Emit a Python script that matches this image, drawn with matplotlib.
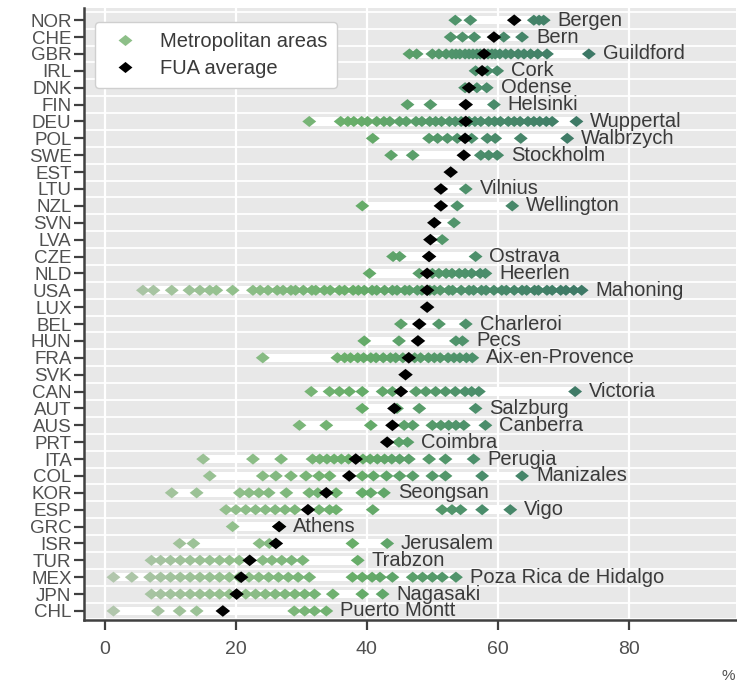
import numpy as np
import matplotlib
matplotlib.use("Agg")
import matplotlib.pyplot as plt
from matplotlib.path import Path
from matplotlib.lines import Line2D
from matplotlib.colors import LinearSegmentedColormap

plt.rcParams['font.family'] = ['Liberation Sans', 'DejaVu Sans']

# ---- data ----
countries = ['NOR', 'CHE', 'GBR', 'IRL', 'DNK', 'FIN', 'DEU', 'POL', 'SWE', 'EST',
             'LTU', 'NZL', 'SVN', 'LVA', 'CZE', 'NLD', 'USA', 'LUX', 'BEL', 'HUN',
             'FRA', 'SVK', 'CAN', 'AUT', 'AUS', 'PRT', 'ITA', 'COL', 'KOR', 'ESP',
             'GRC', 'ISR', 'TUR', 'MEX', 'JPN', 'CHL']

fua_avg = [62.5, 59.4, 57.9, 57.6, 55.6, 55.1, 55.1, 55.0, 54.8, 52.8,
           51.3, 51.3, 50.3, 49.7, 49.5, 49.2, 49.2, 49.2, 48.0, 47.8,
           46.4, 45.9, 45.2, 44.2, 43.9, 43.1, 38.3, 37.3, 33.8, 31.0,
           26.6, 26.1, 22.1, 20.8, 20.1, 18.0]

max_labels = ['Bergen', 'Bern', 'Guildford', 'Cork', 'Odense', 'Helsinki', 'Wuppertal',
              'Walbrzych', 'Stockholm', '', 'Vilnius', 'Wellington', '', '', 'Ostrava',
              'Heerlen', 'Mahoning', '', 'Charleroi', 'Pecs', 'Aix-en-Provence', '',
              'Victoria', 'Salzburg', 'Canberra', 'Coimbra', 'Perugia', 'Manizales',
              'Seongsan', 'Vigo', 'Athens', 'Jerusalem', 'Trabzon',
              'Poza Rica de Hidalgo', 'Nagasaki', 'Puerto Montt']

nor = [53.5, 55.8, 65.5, 66.3, 67.0]
che = [52.8, 54.6, 56.4, 60.9, 63.7]
gbr = [46.5, 47.6, 50.0, 51.0, 52.1, 53.0, 53.6, 54.2, 55.0, 55.6, 56.2, 56.8, 57.3,
       58.5, 59.1, 59.6, 60.3, 61.2, 62.0, 63.1, 64.0, 65.0, 66.1, 67.5, 73.9]
irl = [56.6, 58.4, 59.9]
dnk = [55.0, 56.8, 58.3]
fin = [46.2, 49.7, 59.4]
deu = [31.2, 36.0, 37.1, 38.0, 39.2, 40.1, 41.5, 42.6, 43.5, 45.0, 46.0, 47.5, 48.4,
       49.6, 50.5, 51.4, 52.6, 53.5, 54.4, 55.6, 56.5, 57.4, 58.6, 59.5, 60.4, 61.6,
       62.5, 63.4, 64.6, 65.5, 66.4, 67.4, 68.3, 72.0]
pol = [40.9, 49.5, 50.8, 52.3, 53.8, 56.0, 58.4, 59.6, 63.5, 70.6]
swe = [43.7, 47.0, 57.4, 58.6, 59.9]
est = []
ltu = [55.1]
nzl = [39.3, 53.8, 62.2]
svn = [53.3]
lva = [51.5]
cze = [44.0, 45.0, 56.6]
nld = [40.4, 48.0, 50.0, 51.0, 52.1, 53.0, 54.1, 55.0, 56.0, 57.3, 58.1]
usa = [5.8, 7.4, 10.2, 12.9, 14.5, 16.0, 17.0, 19.5,
       22.6, 23.7, 24.9, 26.3, 27.2, 28.4, 29.1, 30.3, 31.6, 32.2, 33.5, 34.4, 35.8,
       36.6, 37.9, 38.7, 39.6, 40.8, 41.5, 42.7, 43.9, 44.6, 45.8, 46.5, 47.7, 48.4,
       49.6, 50.3, 51.2, 52.5, 53.1, 54.4, 55.6, 56.3, 57.5, 58.2, 59.4, 60.6, 61.3,
       62.5, 63.7, 64.4, 65.6, 66.2, 67.5, 68.3, 69.6, 70.4, 71.6, 72.8]
lux = []
bel = [45.2, 51.0, 55.1]
hun = [39.6, 44.9, 53.6, 54.6]
fra = [24.1, 35.5, 36.6, 37.5, 38.6, 39.5, 40.6, 41.4, 42.5, 43.6, 44.4, 45.5, 47.3,
       48.2, 49.4, 50.3, 51.2, 52.4, 53.3, 54.2, 55.2, 56.1]
svk = []
can = [31.5, 34.3, 35.8, 37.3, 39.3, 42.4, 43.9, 47.5, 49.0, 50.5, 52.0, 53.5, 55.0,
       56.0, 57.1, 71.8]
aut = [39.3, 44.6, 48.0, 56.6]
aus = [29.7, 33.8, 40.6, 45.7, 47.0, 50.0, 51.3, 52.5, 53.6, 54.8, 58.1]
prt = [44.9, 46.2]
ita = [15.0, 22.6, 26.9, 31.7, 32.8, 33.9, 35.0, 36.1, 37.2, 39.4, 40.5, 41.6, 42.7,
       43.8, 45.0, 46.4, 49.5, 52.0, 56.3]
col = [16.0, 24.1, 26.1, 28.4, 30.7, 32.7, 34.3, 39.3, 41.0, 43.0, 45.0, 47.0, 50.0,
       52.0, 57.6, 63.7]
kor = [10.2, 14.0, 20.6, 22.0, 23.5, 25.0, 27.7, 31.2, 32.5, 35.3, 39.3, 40.6, 42.6]
esp = [18.5, 20.0, 21.5, 23.0, 24.5, 26.0, 27.5, 29.0, 32.7, 34.3, 35.3, 40.9, 51.5,
       53.0, 54.3, 57.6, 61.9]
grc = [19.5, 26.6]
isr = [11.4, 13.5, 23.6, 25.1, 37.8, 43.1]
tur = [7.1, 8.5, 10.0, 11.5, 13.0, 14.5, 16.0, 17.5, 19.0, 20.5, 24.1, 25.5, 27.0,
       28.5, 30.2, 38.6]
mex = [1.3, 4.1, 6.9, 8.5, 10.0, 11.5, 13.0, 14.5, 16.0, 17.5, 19.0, 20.5, 22.0, 23.5,
       25.0, 26.5, 28.0, 29.5, 31.2, 37.8, 39.3, 40.8, 42.0, 43.9, 47.0, 48.5, 50.0,
       51.5, 53.6]
jpn = [7.1, 8.5, 10.0, 11.5, 13.0, 14.5, 16.0, 17.5, 19.0, 21.5, 23.0, 24.5, 26.0,
       27.5, 29.0, 30.5, 32.0, 34.8, 39.3, 42.4]
chl = [1.3, 8.1, 11.4, 14.0, 28.9, 30.5, 32.0, 33.8]

metro = [nor, che, gbr, irl, dnk, fin, deu, pol, swe, est, ltu, nzl, svn, lva, cze,
         nld, usa, lux, bel, hun, fra, svk, can, aut, aus, prt, ita, col, kor, esp,
         grc, isr, tur, mex, jpn, chl]

# ---- styling ----
diamond = Path([(-1, 0), (0, 0.8), (1, 0), (0, -0.8), (-1, 0)],
               [Path.MOVETO, Path.LINETO, Path.LINETO, Path.LINETO, Path.CLOSEPOLY])
greens = LinearSegmentedColormap.from_list(
    'greens', [(0.0, '#b3c6ae'), (0.25, '#93c08d'), (0.5, '#68ae69'),
               (0.75, '#4b8e6b'), (1.0, '#3b7565')])
vmax = 76.0
bg = '#e8e8e8'
txt = '#3a3a3a'

fig = plt.figure(figsize=(7.37, 6.85), dpi=100)
ax = fig.add_axes([0.114, 0.095, 0.884, 0.893])
ax.set_facecolor(bg)

n = len(countries)
ypos = np.arange(n)

# row separators and vertical grid
for y in np.arange(-0.5, n, 1.0):
    ax.axhline(y, color='white', lw=1.3, zorder=0)
for x in [0, 20, 40, 60, 80]:
    ax.axvline(x, color='white', lw=1.6, zorder=0)

for i, vals in enumerate(metro):
    allv = vals + [fua_avg[i]]
    if len(allv) > 1:
        ax.barh(i, max(allv) - min(allv), left=min(allv), height=0.5,
                color='white', zorder=1)
    if vals:
        v = np.array(vals)
        ax.scatter(v, np.full(len(v), i), marker=diamond, s=100,
                   c=greens(np.clip(v / vmax, 0, 1)), edgecolors='none', zorder=2)
    if max_labels[i]:
        ax.annotate(max_labels[i], xy=(max(allv), i), xytext=(10, 0),
                    textcoords='offset points', va='center', ha='left',
                    fontsize=14.5, color=txt, zorder=4)

ax.scatter(fua_avg, ypos, marker=diamond, s=110, color='black',
           edgecolors='none', zorder=3)

ax.set_xlim(-3.2, 96.3)
ax.set_ylim(n - 1 + 0.53, -0.71)
ax.set_yticks(ypos)
ax.set_yticklabels(countries, fontsize=13.5, color='#505050')
ax.set_xticks([0, 20, 40, 60, 80])
ax.tick_params(axis='x', labelsize=14, colors='#505050', length=7, width=1.6,
               color='#404040', pad=8)
ax.tick_params(axis='y', length=7, width=1.6, color='#404040', pad=2)
for s in ['top', 'right']:
    ax.spines[s].set_visible(False)
for s in ['left', 'bottom']:
    ax.spines[s].set_color('#404040')
    ax.spines[s].set_linewidth(1.8)

handles = [Line2D([], [], ls='none', marker=diamond, markersize=10,
                  color='#8dbf88', markeredgecolor='none'),
           Line2D([], [], ls='none', marker=diamond, markersize=10,
                  color='black', markeredgecolor='none')]
leg = ax.legend(handles, ['Metropolitan areas', 'FUA average'], loc='upper left',
                bbox_to_anchor=(0.017, 0.977), borderaxespad=0, fontsize=14.5,
                frameon=True, fancybox=True, edgecolor='#cfcfcf', framealpha=1,
                handletextpad=0.7, labelspacing=0.4, borderpad=0.5)
for t in leg.get_texts():
    t.set_color(txt)

fig.text(0.997, 0.003, '%', fontsize=11, color='#505050', ha='right', va='bottom')

fig.savefig('out.png', dpi=100)
